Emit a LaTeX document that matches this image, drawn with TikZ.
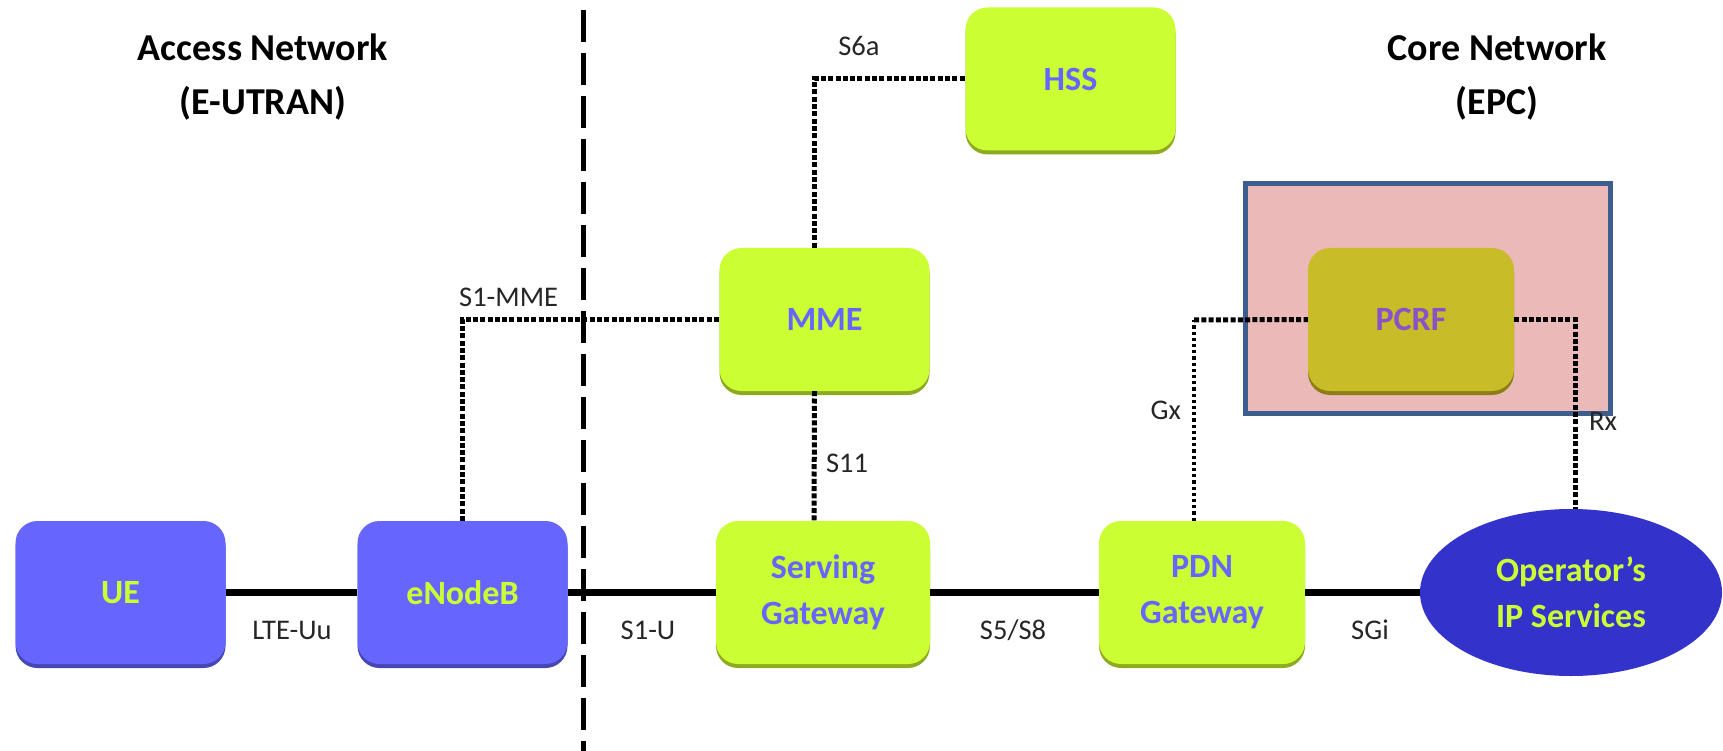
\documentclass[tikz,border=0pt]{standalone}
\usepackage{fontspec}
\setmainfont{Carlito}
\usetikzlibrary{shapes.geometric,shadows}

\definecolor{ranblue}{HTML}{6666FF}
\definecolor{ranshade}{HTML}{4646B4}
\definecolor{limey}{HTML}{CCFF33}
\definecolor{limeshade}{HTML}{8EAA1E}
\definecolor{pcrffill}{HTML}{C8BC28}
\definecolor{pcrfshade}{HTML}{8C7E14}
\definecolor{pcrftext}{HTML}{8A52C8}
\definecolor{pinkfill}{HTML}{ECB9B9}
\definecolor{frameblue}{HTML}{3B5E8C}
\definecolor{opsblue}{HTML}{3333CC}

\tikzset{
  elem/.style={rounded corners=22pt, minimum width=210pt, minimum height=143pt,
    inner sep=0pt, align=center, font=\bfseries\fontsize{34}{46}\selectfont},
  ranbox/.style={elem, fill=ranblue, text=limey,
    drop shadow={shadow xshift=0pt, shadow yshift=-4pt, fill=ranshade, opacity=1}},
  epcbox/.style={elem, fill=limey, text=ranblue,
    drop shadow={shadow xshift=0pt, shadow yshift=-4pt, fill=limeshade, opacity=1}},
  pcrfbox/.style={elem, fill=pcrffill, text=pcrftext,
    drop shadow={shadow xshift=0pt, shadow yshift=-4pt, fill=pcrfshade, opacity=1}},
  netheading/.style={font=\bfseries\fontsize{38}{54}\selectfont, align=center},
  iflabel/.style={font=\fontsize{28.5}{34}\selectfont, text=black!85, inner sep=0pt},
  userplane/.style={line width=7pt},
  ctrlplane/.style={line width=5pt, dash pattern=on 5pt off 2.3pt},
  thinctrl/.style={line width=3.2pt, dash pattern=on 3.2pt off 3pt},
  divider/.style={line width=5pt, dash pattern=on 32pt off 11pt}
}

\begin{document}
\begin{tikzpicture}[x=1pt,y=-1pt]
\useasboundingbox (0,0) rectangle (1723,751);

% PCRF highlight area
\node[draw=frameblue, line width=5pt, fill=pinkfill, minimum width=365pt,
  minimum height=229pt, inner sep=0pt] (pcrfarea) at (1427.5,298.5) {};

% network headings
\node[netheading] (accessnet) at (263,77) {Access Network\\(E-UTRAN)};
\node[netheading] (corenet) at (1497,77) {Core Network\\(EPC)};

% boundary between access network and core network
\coordinate (divtop) at (583,10);
\coordinate (divbot) at (583,751);
\draw[divider] (divtop) -- (divbot);

% network elements
\node[ranbox] (ue) at (120.5,592.5) {UE};
\node[ranbox] (enb) at (462.5,592.5) {eNodeB};
\node[epcbox, minimum width=214pt] (sgw) at (823,592.5) {Serving\\Gateway};
\node[epcbox, minimum width=206pt] (pgw) at (1202,592.5) {PDN\\Gateway};
\node[epcbox] (mme) at (824.5,319.5) {MME};
\node[epcbox] (hss) at (1070.5,79) {HSS};
\node[pcrfbox, minimum width=206pt] (pcrf) at (1411,319.5) {PCRF};
\node[ellipse, fill=opsblue, text=limey, minimum width=302pt, minimum height=167pt,
  inner sep=0pt, align=center, font=\bfseries\fontsize{34}{46}\selectfont]
  (ops) at (1571,592.5) {Operator’s\\IP Services};

% user-plane path
\draw[userplane] (ue.east) -- (enb.west);
\draw[userplane] (enb.east) -- (sgw.west);
\draw[userplane] (sgw.east) -- (pgw.west);
\draw[userplane] (pgw.east) -- (ops.west);

% control-plane interfaces
\draw[ctrlplane] (enb.north) |- (mme.west);
\draw[ctrlplane] ([xshift=-10pt]mme.north) |- (hss.west);
\draw[ctrlplane] ([xshift=-10pt]mme.south) -- ([xshift=-9pt]sgw.north);
\coordinate (gxcorner) at (1194,320);
\draw[thinctrl] ([xshift=-8pt]pgw.north) -- (gxcorner);
\draw[ctrlplane] (gxcorner) -- (pcrf.west);
\draw[ctrlplane] (pcrf.east) -| ([xshift=4pt]ops.north);

% interface names
\node[iflabel] (luu) at (292,630) {LTE-Uu};
\node[iflabel] (ls1u) at (648,630) {S1-U};
\node[iflabel] (ls5) at (1013,630) {S5/S8};
\node[iflabel] (lsgi) at (1370,630) {SGi};
\node[iflabel] (ls11) at (847,463) {S11};
\node[iflabel] (ls6a) at (859,46) {S6a};
\node[iflabel, anchor=west] (ls1mme) at (459,297) {S1-MME};
\node[iflabel, anchor=east] (lgx) at (1181,410) {Gx};
\node[iflabel] (lrx) at (1603,421) {Rx};
\end{tikzpicture}
\end{document}
